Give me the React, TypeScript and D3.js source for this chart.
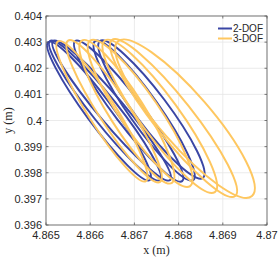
import * as d3 from "d3";

// loop = [tip x, tip y, far tip x, far tip y, outer side x, outer side y]
type Loop = [number, number, number, number, number, number];

const xTicks = [4.865, 4.866, 4.867, 4.868, 4.869, 4.87];
const xTickLabels = ["4.865", "4.866", "4.867", "4.868", "4.869", "4.87"];
const yTicks = [0.396, 0.397, 0.398, 0.399, 0.4, 0.401, 0.402, 0.403, 0.404];
const yTickLabels = ["0.396", "0.397", "0.398", "0.399", "0.4", "0.401", "0.402", "0.403", "0.404"];

const seriesNames = ["2-DOF", "3-DOF"];

const loops2dof: Loop[] = [
  [4.86505, 0.403, 4.86735, 0.39772, 4.86644, 0.40066],
  [4.86509, 0.40304, 4.86758, 0.39772, 4.86657, 0.40069],
  [4.86516, 0.40304, 4.86781, 0.39772, 4.86671, 0.4007],
  [4.86566, 0.40304, 4.86808, 0.39768, 4.86712, 0.40069],
  [4.86611, 0.40304, 4.86833, 0.39772, 4.8675, 0.40071],
  [4.86622, 0.40304, 4.86855, 0.3978, 4.86768, 0.40079],
];

const loops3dof: Loop[] = [
  [4.86527, 0.40303, 4.86726, 0.39768, 4.86654, 0.40062],
  [4.8655, 0.40306, 4.86758, 0.39765, 4.86683, 0.40066],
  [4.86581, 0.40306, 4.86785, 0.39761, 4.86717, 0.40068],
  [4.866, 0.40306, 4.86826, 0.39749, 4.86749, 0.40068],
  [4.86633, 0.40306, 4.86882, 0.39726, 4.86794, 0.40058],
  [4.86649, 0.40308, 4.86928, 0.39711, 4.86823, 0.40055],
  [4.86663, 0.40303, 4.86966, 0.39711, 4.86859, 0.4007],
];

const colors = ["#3a46a5", "#fec760"];

const width = 278;
const height = 278;
const margin = { top: 16, right: 11, bottom: 53, left: 46 };

export default function App() {
  const x = d3
    .scaleLinear()
    .domain([4.865, 4.87])
    .range([margin.left, width - margin.right]);
  const y = d3
    .scaleLinear()
    .domain([0.396, 0.404])
    .range([height - margin.bottom, margin.top]);

  const x0 = margin.left;
  const x1 = width - margin.right;
  const y0 = height - margin.bottom;
  const y1 = margin.top;

  function ellipse(l: Loop, color: string, key: string) {
    const px = x(l[0]), py = y(l[1]);
    const qx = x(l[2]), qy = y(l[3]);
    const mx = x(l[4]), my = y(l[5]);
    const dx = qx - px, dy = qy - py;
    const len = Math.hypot(dx, dy);
    const cx = (px + qx) / 2, cy = (py + qy) / 2;
    const ry = Math.abs((mx - px) * dy - (my - py) * dx) / len;
    const ang = (Math.atan2(dy, dx) * 180) / Math.PI;
    return (
      <ellipse
        key={key}
        cx={cx}
        cy={cy}
        rx={len / 2}
        ry={ry}
        transform={`rotate(${ang},${cx},${cy})`}
        fill="none"
        stroke={color}
        strokeWidth={2}
      />
    );
  }

  const tickFont = "Liberation Sans, Arial, Helvetica, sans-serif";

  return (
    <svg
      width={width}
      height={height}
      style={{ position: "absolute", left: 0, top: 0, background: "#fff" }}
    >
      <rect x={0} y={0} width={width} height={height} fill="#fff" />
      {/* grid */}
      {xTicks.map((t) => (
        <line key={"gx" + t} x1={x(t)} x2={x(t)} y1={y0} y2={y1} stroke="#e6e6e6" strokeWidth={0.8} />
      ))}
      {yTicks.map((t) => (
        <line key={"gy" + t} x1={x0} x2={x1} y1={y(t)} y2={y(t)} stroke="#e6e6e6" strokeWidth={0.8} />
      ))}

      {/* data */}
      <g>
        {loops2dof.map((l, i) => ellipse(l, colors[0], "b" + i))}
        {loops3dof.map((l, i) => ellipse(l, colors[1], "y" + i))}
      </g>

      {/* box */}
      <rect x={x0} y={y1} width={x1 - x0} height={y0 - y1} fill="none" stroke="#5a5a5a" strokeWidth={0.8} />
      {xTicks.map((t) => (
        <g key={"tx" + t}>
          <line x1={x(t)} x2={x(t)} y1={y0} y2={y0 - 2.5} stroke="#5a5a5a" strokeWidth={0.8} />
          <line x1={x(t)} x2={x(t)} y1={y1} y2={y1 + 2.5} stroke="#5a5a5a" strokeWidth={0.8} />
        </g>
      ))}
      {yTicks.map((t) => (
        <g key={"ty" + t}>
          <line x1={x0} x2={x0 + 2.5} y1={y(t)} y2={y(t)} stroke="#5a5a5a" strokeWidth={0.8} />
          <line x1={x1} x2={x1 - 2.5} y1={y(t)} y2={y(t)} stroke="#5a5a5a" strokeWidth={0.8} />
        </g>
      ))}

      {/* tick labels */}
      {xTicks.map((t, i) => (
        <text key={"lx" + t} x={x(t)} y={y0 + 14} textAnchor="middle" fontSize={11} fontFamily={tickFont} fill="#262626">
          {xTickLabels[i]}
        </text>
      ))}
      {yTicks.map((t, i) => (
        <text key={"ly" + t} x={x0 - 4} y={y(t) + 4} textAnchor="end" fontSize={11} fontFamily={tickFont} fill="#262626">
          {yTickLabels[i]}
        </text>
      ))}

      {/* axis labels */}
      <text x={(x0 + x1) / 2} y={y0 + 29} textAnchor="middle" fontSize={12} fontFamily="Liberation Serif, Times New Roman, serif" fill="#262626">
        x (m)
      </text>
      <text
        transform={`translate(12,${(y0 + y1) / 2}) rotate(-90)`}
        textAnchor="middle"
        fontSize={12}
        fontFamily="Liberation Serif, Times New Roman, serif"
        fill="#262626"
      >
        y (m)
      </text>

      {/* legend */}
      {seriesNames.map((name, i) => (
        <g key={name} transform={`translate(218,${28.5 + i * 10})`}>
          <line x1={0} x2={14} y1={0} y2={0} stroke={colors[i]} strokeWidth={2} />
          <text x={15} y={3.5} fontSize={10} fontFamily={tickFont} fill="#262626">
            {name}
          </text>
        </g>
      ))}
    </svg>
  );
}
